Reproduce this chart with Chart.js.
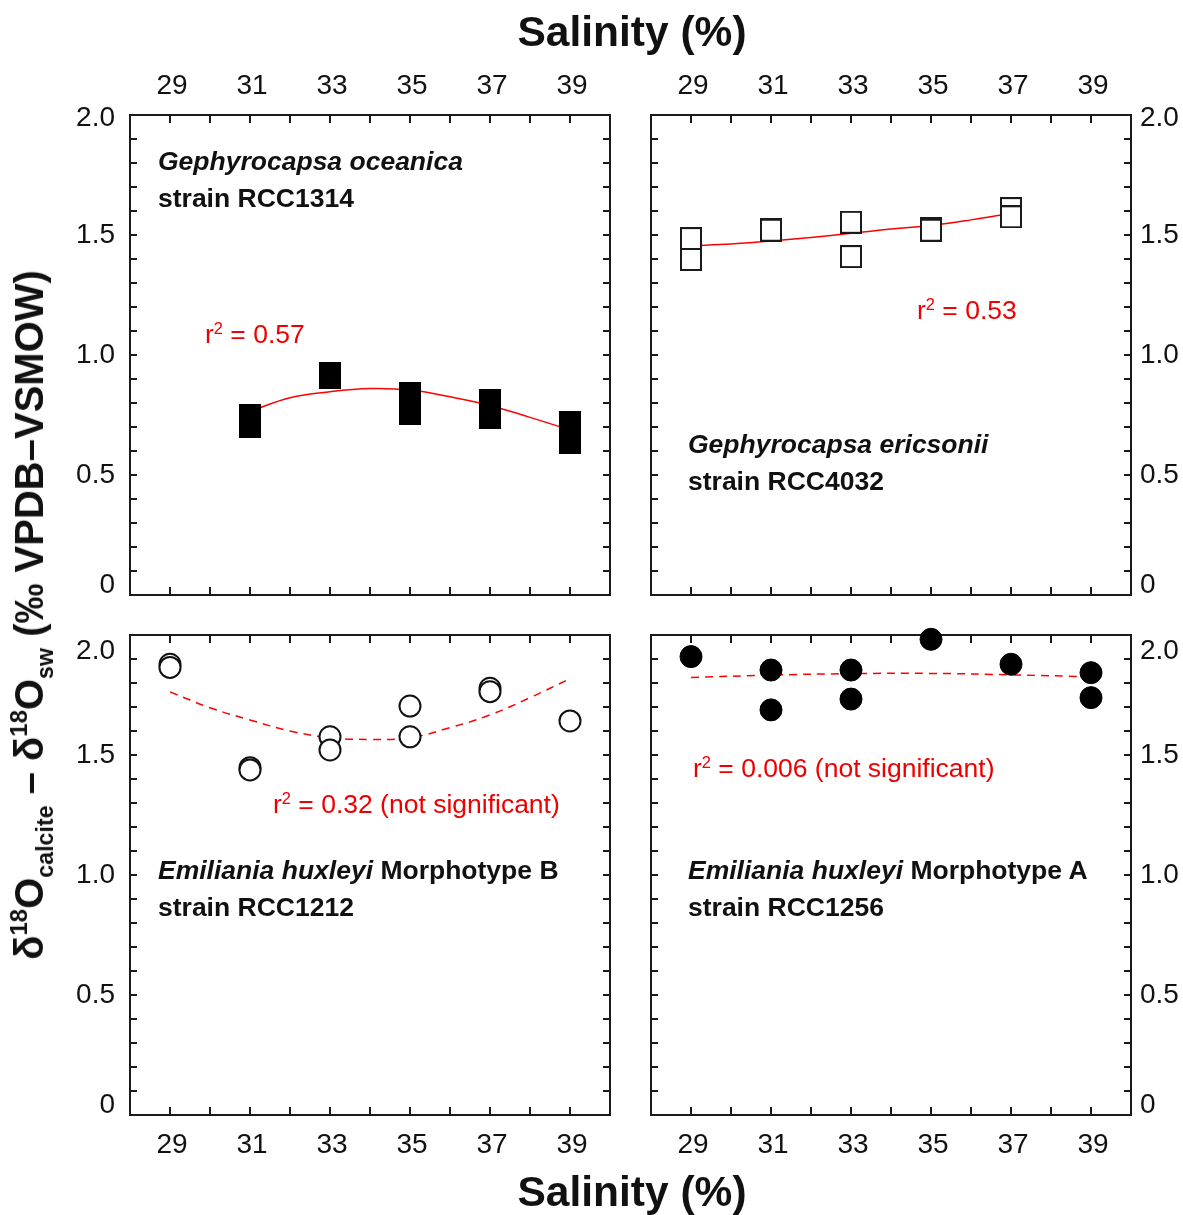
<!DOCTYPE html>
<html>
<head>
<meta charset="utf-8">
<script src="https://cdn.jsdelivr.net/npm/chart.js@4.4.1/dist/chart.umd.min.js"></script>
<style>
  html, body { margin: 0; padding: 0; background: #fff; }
  #page { position: relative; width: 1183px; height: 1215px; overflow: hidden;
          font-family: "Liberation Sans", Arial, sans-serif; color: #111; }
  .chartbox { position: absolute; width: 680px; height: 680px; }
  .note { position: absolute; font-size: 26.5px; line-height: 37px; font-weight: bold; white-space: nowrap; color: #111; }
  .red { position: absolute; font-size: 26.5px; line-height: 30px; color: #e00; white-space: nowrap; }
  .red sup { font-size: 62%; vertical-align: 0; position: relative; top: -0.55em; }
  .xtitle { position: absolute; left: 332px; width: 600px; text-align: center; font-size: 42.5px; line-height: 48px; font-weight: bold; }
  #ytitle { position: absolute; left: 32px; top: 615px; transform: translate(-50%, -50%) rotate(-90deg);
            font-size: 40px; line-height: 48px; font-weight: bold; white-space: nowrap; }
  #ytitle sup { font-size: 60%; vertical-align: 0; position: relative; top: -0.65em; }
  #ytitle sub { font-size: 58%; vertical-align: 0; position: relative; top: 0.45em; }
</style>
</head>
<body>
<div id="page">
  <div class="chartbox" style="left:30px;top:15px"><canvas id="cTL" width="680" height="680"></canvas></div>
  <div class="chartbox" style="left:551px;top:15px"><canvas id="cTR" width="680" height="680"></canvas></div>
  <div class="chartbox" style="left:30px;top:535px"><canvas id="cBL" width="680" height="680"></canvas></div>
  <div class="chartbox" style="left:551px;top:535px"><canvas id="cBR" width="680" height="680"></canvas></div>

  <div class="xtitle" style="top:8px">Salinity (%)</div>
  <div class="xtitle" style="top:1168px">Salinity (%)</div>
  <div id="ytitle">δ<sup>18</sup>O<sub>calcite</sub> – δ<sup>18</sup>O<sub>sw</sub> (‰ VPDB–VSMOW)</div>

  <div class="note" style="left:158px;top:142.5px"><i>Gephyrocapsa oceanica</i><br>strain RCC1314</div>
  <div class="note" style="left:688px;top:425.5px"><i>Gephyrocapsa ericsonii</i><br>strain RCC4032</div>
  <div class="note" style="left:158px;top:851.5px"><i>Emiliania huxleyi</i> Morphotype B<br>strain RCC1212</div>
  <div class="note" style="left:688px;top:851.5px"><i>Emiliania huxleyi</i> Morphotype A<br>strain RCC1256</div>

  <div class="red" style="left:205px;top:319px">r<sup>2</sup> = 0.57</div>
  <div class="red" style="left:917px;top:295px">r<sup>2</sup> = 0.53</div>
  <div class="red" style="left:273px;top:789px">r<sup>2</sup> = 0.32 (not significant)</div>
  <div class="red" style="left:693px;top:753px">r<sup>2</sup> = 0.006 (not significant)</div>
</div>

<script>
// ---------------- DATA ----------------
const xTickLabels = ['29', '31', '33', '35', '37', '39'];
const yTickLabels = ['0', '0.5', '1.0', '1.5', '2.0'];

// Gephyrocapsa oceanica RCC1314
const oceanicaSal = [31, 31, 33, 33, 35, 35, 37, 37, 39, 39];
const oceanicaD18 = [0.743, 0.708, 0.917, 0.910, 0.837, 0.760, 0.805, 0.743, 0.713, 0.638];
const oceanicaFitSal = [31, 32, 33, 34, 35, 36, 37, 38, 39];
const oceanicaFit = [0.765, 0.822, 0.847, 0.860, 0.854, 0.826, 0.790, 0.740, 0.688];

// Gephyrocapsa ericsonii RCC4032
const ericsoniiSal = [29, 29, 31, 31, 33, 33, 35, 35, 37, 37];
const ericsoniiD18 = [1.485, 1.398, 1.524, 1.520, 1.553, 1.410, 1.527, 1.520, 1.610, 1.576];
const ericsoniiFitSal = [29, 30, 31, 32, 33, 34, 35, 36, 37];
const ericsoniiFit = [1.455, 1.462, 1.475, 1.490, 1.507, 1.525, 1.540, 1.563, 1.590];

// Emiliania huxleyi Morphotype B RCC1212
const huxleyiBSal = [29, 29, 31, 31, 33, 33, 35, 35, 37, 37, 39];
const huxleyiBD18 = [1.878, 1.865, 1.447, 1.438, 1.576, 1.521, 1.704, 1.576, 1.778, 1.764, 1.642];
const huxleyiBFitSal = [29, 30, 31, 32, 33, 34, 35, 36, 37, 38, 39];
const huxleyiBFit = [1.763, 1.697, 1.646, 1.600, 1.572, 1.565, 1.572, 1.614, 1.667, 1.739, 1.818];

// Emiliania huxleyi Morphotype A RCC1256
const huxleyiASal = [29, 31, 31, 33, 33, 35, 37, 39, 39];
const huxleyiAD18 = [1.910, 1.854, 1.688, 1.854, 1.733, 1.982, 1.878, 1.843, 1.739];
const huxleyiAFitSal = [29, 31, 33, 35, 37, 39];
const huxleyiAFit = [1.823, 1.833, 1.839, 1.840, 1.834, 1.826];

// ---------------- STYLE / LAYOUT ----------------
const FONT = '"Liberation Sans", Arial, sans-serif';
const INK = '#111';
const FIT_RED = '#f00';
const M = 100; // axis band size around each 480x480 plot area
const TICK_SIZE = 28;

function squareMarker(w, h, fill, stroke, lw) {
  const c = document.createElement('canvas');
  c.width = w; c.height = h;
  const g = c.getContext('2d');
  if (fill) { g.fillStyle = fill; g.fillRect(0, 0, w, h); }
  if (stroke) { g.strokeStyle = stroke; g.lineWidth = lw; g.strokeRect(lw / 2, lw / 2, w - lw, h - lw); }
  return c;
}

const frameTicks = {
  id: 'frameTicks',
  beforeDatasetsDraw(chart) {
    const { ctx, chartArea } = chart;
    const { left, right, top, bottom } = chartArea;
    const xs = chart.scales.x, ys = chart.scales.y;
    ctx.save();
    ctx.strokeStyle = '#1a1a1a';
    ctx.lineWidth = 2;
    ctx.beginPath();
    xs.ticks.forEach(t => {
      if (t.value <= xs.min || t.value >= xs.max) return;
      const px = Math.round(xs.getPixelForValue(t.value));
      ctx.moveTo(px, top); ctx.lineTo(px, top + 8);
      ctx.moveTo(px, bottom); ctx.lineTo(px, bottom - 8);
    });
    ys.ticks.forEach(t => {
      if (t.value <= ys.min || t.value >= ys.max) return;
      const py = Math.round(ys.getPixelForValue(t.value));
      ctx.moveTo(left, py); ctx.lineTo(left + 7, py);
      ctx.moveTo(right, py); ctx.lineTo(right - 7, py);
    });
    ctx.stroke();
    ctx.strokeRect(left, top, right - left, bottom - top);
    ctx.restore();
  }
};

function hiddenAxis(axis, position, min, max) {
  return {
    type: 'linear', axis, position, min, max,
    afterFit: s => { if (axis === 'x') s.height = M; else s.width = M; },
    grid: { display: false, drawTicks: false, tickLength: 0 },
    border: { display: false },
    ticks: { display: false }
  };
}

function yLabelText(v) {
  const k = Math.round(v * 10);
  if (k % 5) return '';
  const s = k === 0 ? '0' : (k / 10).toFixed(1);
  return yTickLabels.includes(s) ? s : '';
}

function makePanel(id, p) {
  const other = { top: 'bottom', bottom: 'top', left: 'right', right: 'left' };
  const points = p.sal.map((s, i) => ({ x: s, y: p.d18[i] }));
  const fit = p.fitSal.map((s, i) => ({ x: s, y: p.fit[i] }));
  // vertical nudge (px) of end labels, realised through a two-line label whose line height = 2*|shift|
  const shiftOf = v => p.yShift[yLabelText(v)] || 0;
  new Chart(document.getElementById(id), {
    type: 'scatter',
    data: {
      datasets: [
        Object.assign({
          label: p.name, data: points, showLine: false, clip: false, order: 0
        }, p.marker),
        {
          type: 'line', label: p.name + ' fit', data: fit, order: 1,
          borderColor: FIT_RED, borderWidth: 1.5, borderDash: p.dash,
          pointRadius: 0, tension: 0.4, fill: false, clip: false
        }
      ]
    },
    options: {
      responsive: false, animation: false, devicePixelRatio: 1,
      layout: { padding: 0 },
      plugins: { legend: { display: false }, tooltip: { enabled: false } },
      scales: {
        x: {
          type: 'linear', axis: 'x', position: p.xSide, min: 28, max: 40,
          afterFit: s => { s.height = M; },
          grid: { display: false, drawTicks: false, tickLength: 0 },
          border: { display: false },
          ticks: {
            stepSize: 1, autoSkip: false, maxRotation: 0, minRotation: 0,
            padding: p.xSide === 'top' ? 12 : 13, labelOffset: 2,
            color: INK, font: { family: FONT, size: TICK_SIZE, lineHeight: 1.2 },
            callback: v => xTickLabels.includes(String(v)) ? String(v) : ''
          }
        },
        x2: hiddenAxis('x', other[p.xSide], 28, 40),
        y: {
          type: 'linear', axis: 'y', position: p.ySide, min: 0, max: 2,
          afterFit: s => { s.width = M; },
          grid: { display: false, drawTicks: false, tickLength: 0 },
          border: { display: false },
          ticks: {
            stepSize: 0.1, autoSkip: false,
            padding: p.ySide === 'left' ? 15 : 9,
            color: INK,
            font: c => {
              const sh = c.tick ? shiftOf(c.tick.value) : 0;
              return { family: FONT, size: TICK_SIZE, lineHeight: sh ? (2 * Math.abs(sh)) / TICK_SIZE : 1.2 };
            },
            callback: v => {
              const s = yLabelText(v);
              if (!s) return '';
              const sh = shiftOf(v);
              if (sh < 0) return [s, ''];
              if (sh > 0) return ['', s];
              return s;
            }
          }
        },
        y2: hiddenAxis('y', other[p.ySide], 0, 2)
      }
    },
    plugins: [frameTicks]
  });
}

const filledSquare = squareMarker(22, 25, '#000', null, 0);
const hollowSquare = squareMarker(22, 23, '#fff', '#1a1a1a', 2);

makePanel('cTL', {
  name: 'Gephyrocapsa oceanica RCC1314', sal: oceanicaSal, d18: oceanicaD18,
  fitSal: oceanicaFitSal, fit: oceanicaFit, dash: [],
  xSide: 'top', ySide: 'left', yShift: { '0': -10, '2.0': 3 },
  marker: { pointStyle: filledSquare, pointRadius: 12 }
});
makePanel('cTR', {
  name: 'Gephyrocapsa ericsonii RCC4032', sal: ericsoniiSal, d18: ericsoniiD18,
  fitSal: ericsoniiFitSal, fit: ericsoniiFit, dash: [],
  xSide: 'top', ySide: 'right', yShift: { '0': -10, '2.0': 3 },
  marker: { pointStyle: hollowSquare, pointRadius: 12 }
});
makePanel('cBL', {
  name: 'Emiliania huxleyi Morphotype B RCC1212', sal: huxleyiBSal, d18: huxleyiBD18,
  fitSal: huxleyiBFitSal, fit: huxleyiBFit, dash: [8, 6],
  xSide: 'bottom', ySide: 'left', yShift: { '0': -10, '2.0': 16 },
  marker: { pointStyle: 'circle', pointRadius: 10.5, borderWidth: 2, borderColor: '#111', backgroundColor: '#fff' }
});
makePanel('cBR', {
  name: 'Emiliania huxleyi Morphotype A RCC1256', sal: huxleyiASal, d18: huxleyiAD18,
  fitSal: huxleyiAFitSal, fit: huxleyiAFit, dash: [8, 6],
  xSide: 'bottom', ySide: 'right', yShift: { '0': -10, '2.0': 16 },
  marker: { pointStyle: 'circle', pointRadius: 11, borderWidth: 1, borderColor: '#000', backgroundColor: '#000' }
});
</script>
</body>
</html>
